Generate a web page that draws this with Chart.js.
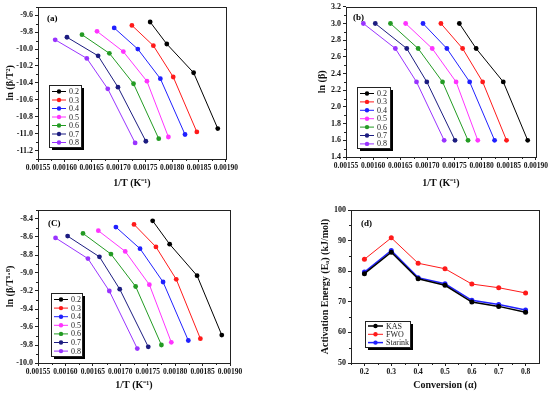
<!DOCTYPE html>
<html>
<head>
<meta charset="utf-8">
<script src="https://cdn.jsdelivr.net/npm/chart.js@4.4.0/dist/chart.umd.min.js"></script>
<style>
  html, body { margin: 0; padding: 0; background: #fff; }
  #wrap { position: relative; width: 550px; height: 395px; overflow: hidden; }
  canvas { position: absolute; }
</style>
</head>
<body>
<div id="wrap">
  <canvas id="pa" style="left:3px;top:0"></canvas>
  <canvas id="pb" style="left:315px;top:0"></canvas>
  <canvas id="pc" style="left:3px;top:200px"></canvas>
  <canvas id="pd" style="left:318px;top:200px"></canvas>
</div>
<script>
// conversion levels and their colours
const conversions = ['0.2', '0.3', '0.4', '0.5', '0.6', '0.7', '0.8'];
const seriesColors = ['#000000', '#ff1a1a', '#2020ff', '#ff33ff', '#239b23', '#1c1c80', '#9933ff'];

// 1/T (K^-1) for each conversion, heating rates 20, 15, 10, 5 K/min
const invT02 = [0.001759, 0.001790, 0.001840, 0.001885];
const invT03 = [0.001725, 0.001765, 0.001802, 0.001846];
const invT04 = [0.001692, 0.001736, 0.001778, 0.001824];
const invT05 = [0.001660, 0.001709, 0.001753, 0.001793];
const invT06 = [0.001632, 0.001683, 0.001728, 0.001775];
const invT07 = [0.001604, 0.001662, 0.001699, 0.001751];
const invT08 = [0.001582, 0.001641, 0.001680, 0.001731];
const invT = [invT02, invT03, invT04, invT05, invT06, invT07, invT08];

// (a) ln(beta/T^2)
const kas02 = [-9.68, -9.94, -10.28, -10.94];
const kas03 = [-9.72, -9.96, -10.33, -10.98];
const kas04 = [-9.75, -10.00, -10.35, -11.01];
const kas05 = [-9.79, -10.03, -10.38, -11.04];
const kas06 = [-9.83, -10.05, -10.41, -11.06];
const kas07 = [-9.86, -10.08, -10.45, -11.09];
const kas08 = [-9.89, -10.11, -10.47, -11.11];
const kasY = [kas02, kas03, kas04, kas05, kas06, kas07, kas08];

// (b) ln(beta), same for every conversion
const lnBeta = [3.0, 2.7, 2.3, 1.6];

// (c) ln(beta/T^1.8)
const str02 = [-8.42, -8.68, -9.03, -9.69];
const str03 = [-8.46, -8.71, -9.07, -9.73];
const str04 = [-8.49, -8.73, -9.10, -9.75];
const str05 = [-8.53, -8.76, -9.13, -9.77];
const str06 = [-8.56, -8.79, -9.15, -9.80];
const str07 = [-8.59, -8.82, -9.18, -9.82];
const str08 = [-8.61, -8.84, -9.20, -9.84];
const strY = [str02, str03, str04, str05, str06, str07, str08];

// (d) activation energy vs conversion
const alpha = [0.2, 0.3, 0.4, 0.5, 0.6, 0.7, 0.8];
const eaKAS = [79.2, 86.2, 77.5, 75.4, 69.9, 68.5, 66.6];
const eaFWO = [83.9, 90.9, 82.6, 80.8, 75.8, 74.6, 72.9];
const eaStarink = [79.7, 86.8, 77.9, 75.9, 70.5, 69.1, 67.3];

// tick labels
const invTTicks = [0.00155, 0.00160, 0.00165, 0.00170, 0.00175, 0.00180, 0.00185, 0.00190];
const ticksA = [-11.2, -11.0, -10.8, -10.6, -10.4, -10.2, -10.0, -9.8, -9.6];
const ticksB = [1.4, 1.6, 1.8, 2.0, 2.2, 2.4, 2.6, 2.8, 3.0, 3.2];
const ticksC = [-10.0, -9.8, -9.6, -9.4, -9.2, -9.0, -8.8, -8.6, -8.4];
const ticksD = [50, 60, 70, 80, 90, 100];

const FONT = 'Liberation Serif';

function pts(xs, ys) {
  return xs.map((x, i) => ({ x: x, y: ys[i] }));
}

function seriesSets(yFor) {
  return conversions.map((c, i) => ({
    label: c,
    data: pts(invT[i], yFor(i)),
    borderColor: seriesColors[i],
    backgroundColor: seriesColors[i],
    borderWidth: 1,
    pointRadius: 2.4,
    pointBorderWidth: 0
  }));
}

// box, minor ticks and panel letter
const framePlugin = {
  id: 'frame',
  afterDraw(chart, args, opts) {
    const ctx = chart.ctx;
    const a = chart.chartArea;
    ctx.save();
    ctx.strokeStyle = '#222';
    ctx.lineWidth = 1;
    ctx.strokeRect(Math.round(a.left) + 0.5, Math.round(a.top) + 0.5,
      Math.round(a.right - a.left), Math.round(a.bottom - a.top));
    // minor ticks
    ['x', 'y'].forEach(id => {
      const s = chart.scales[id];
      const t = s.ticks.map(k => k.value);
      if (t.length < 2) return;
      const step = t[1] - t[0];
      const mids = [t[0] - step / 2];
      for (let i = 0; i < t.length; i++) mids.push(t[i] + step / 2);
      ctx.beginPath();
      mids.forEach(v => {
        if (v < s.min || v > s.max) return;
        const p = Math.round(s.getPixelForValue(v)) + 0.5;
        if (id === 'x') { ctx.moveTo(p, a.bottom); ctx.lineTo(p, a.bottom + 2); }
        else { ctx.moveTo(a.left, p); ctx.lineTo(a.left - 2, p); }
      });
      ctx.stroke();
    });
    ctx.fillStyle = '#000';
    ctx.font = 'bold 9px "' + FONT + '"';
    ctx.textBaseline = 'middle';
    ctx.fillText(opts.tag, a.left + opts.tagX, a.top + opts.tagY);
    ctx.restore();
  }
};

// inset legend with shadow
const insetLegend = {
  id: 'insetLegend',
  afterDraw(chart, args, o) {
    const ctx = chart.ctx;
    const sets = chart.data.datasets;
    ctx.save();
    ctx.fillStyle = '#000';
    ctx.fillRect(o.x + 3, o.y + 3, o.w, o.h);
    ctx.fillStyle = '#fff';
    ctx.fillRect(o.x, o.y, o.w, o.h);
    ctx.strokeStyle = '#222';
    ctx.lineWidth = 1;
    ctx.strokeRect(o.x + 0.5, o.y + 0.5, o.w, o.h);
    ctx.font = '8px "' + FONT + '"';
    ctx.textBaseline = 'middle';
    sets.forEach((d, i) => {
      const cy = o.y + o.first + i * o.row;
      ctx.strokeStyle = d.borderColor;
      ctx.lineWidth = d.borderWidth;
      ctx.beginPath();
      ctx.moveTo(o.x + 3, cy);
      ctx.lineTo(o.x + 3 + o.line, cy);
      ctx.stroke();
      ctx.fillStyle = d.borderColor;
      ctx.beginPath();
      ctx.arc(o.x + 3 + o.line / 2, cy, 2.2, 0, Math.PI * 2);
      ctx.fill();
      ctx.fillStyle = '#222';
      ctx.fillText(d.label, o.x + 6 + o.line, cy + 0.5);
    });
    ctx.restore();
  }
};

function axis(opts) {
  return Object.assign({
    type: 'linear',
    border: { display: false },
    grid: { drawOnChartArea: false, drawTicks: true, tickLength: 3, color: '#222' },
    title: { display: true, color: '#111', font: { family: FONT, size: 10, weight: 'bold' }, padding: 1 },
    ticks: { color: '#111', font: { family: FONT, size: 7.5, weight: 'bold' }, padding: 2, maxRotation: 0, autoSkip: false }
  }, opts);
}

function makePanel(id, w, h, cfg) {
  const cv = document.getElementById(id);
  cv.width = w; cv.height = h;
  cv.style.width = w + 'px'; cv.style.height = h + 'px';
  const xAxis = axis({ min: cfg.xMin, max: cfg.xMax });
  xAxis.title = Object.assign({}, xAxis.title, { text: cfg.xTitle });
  xAxis.ticks = Object.assign({}, xAxis.ticks, { callback: cfg.xFmt });
  xAxis.afterBuildTicks = s => { s.ticks = cfg.xTicks.map(v => ({ value: v })); };
  xAxis.afterFit = s => { s.height = cfg.xH; };
  const yAxis = axis({ min: cfg.yMin, max: cfg.yMax });
  yAxis.title = Object.assign({}, yAxis.title, { text: cfg.yTitle });
  yAxis.ticks = Object.assign({}, yAxis.ticks, { callback: cfg.yFmt, font: { family: FONT, size: 8, weight: 'bold' } });
  yAxis.afterBuildTicks = s => { s.ticks = cfg.yTicks.map(v => ({ value: v })); };
  yAxis.afterFit = s => { s.width = cfg.yW; };
  return new Chart(cv, {
    type: 'line',
    data: { datasets: cfg.datasets },
    options: {
      responsive: false,
      animation: false,
      devicePixelRatio: 1,
      layout: { padding: cfg.pad },
      scales: { x: xAxis, y: yAxis },
      plugins: {
        legend: { display: false },
        tooltip: { enabled: false },
        frame: cfg.frame,
        insetLegend: cfg.legend
      }
    },
    plugins: [framePlugin, insetLegend]
  });
}

const fmtInvT = v => v.toFixed(5);
const fmt1 = v => v.toFixed(1);

makePanel('pa', 237, 190, {
  datasets: seriesSets(i => kasY[i]),
  xMin: 0.00155, xMax: 0.0019, xTicks: invTTicks, xFmt: fmtInvT, xTitle: '1/T (K⁻¹)', xH: 31,
  yMin: -11.3, yMax: -9.5, yTicks: ticksA, yFmt: fmt1, yTitle: 'ln (β/T²)', yW: 35,
  pad: { top: 4, right: 13, left: 0, bottom: 0 },
  frame: { tag: '(a)', tagX: 9, tagY: 12 },
  legend: { x: 46, y: 85, w: 32, h: 62, first: 6.5, row: 8.5, line: 14 }
});

makePanel('pb', 235, 190, {
  datasets: seriesSets(() => lnBeta),
  xMin: 0.00155, xMax: 0.0019, xTicks: invTTicks, xFmt: fmtInvT, xTitle: '1/T (K⁻¹)', xH: 33,
  yMin: 1.4, yMax: 3.2, yTicks: ticksB, yFmt: fmt1, yTitle: 'ln (β)', yW: 31,
  pad: { top: 4, right: 14, left: 0, bottom: 0 },
  frame: { tag: '(b)', tagX: 7, tagY: 11 },
  legend: { x: 42, y: 87, w: 33, h: 61, first: 6.5, row: 8.4, line: 14 }
});

makePanel('pc', 242, 192, {
  datasets: seriesSets(i => strY[i]),
  xMin: 0.00155, xMax: 0.0019, xTicks: invTTicks, xFmt: fmtInvT, xTitle: '1/T (K⁻¹)', xH: 29,
  yMin: -10.0, yMax: -8.3, yTicks: ticksC, yFmt: fmt1, yTitle: 'ln (β/T¹·⁸)', yW: 35,
  pad: { top: 10, right: 15, left: 0, bottom: 0 },
  frame: { tag: '(C)', tagX: 10, tagY: 14 },
  legend: { x: 48, y: 93, w: 31, h: 63, first: 6.5, row: 8.6, line: 14 }
});

makePanel('pd', 232, 192, {
  datasets: [
    { label: 'KAS', data: pts(alpha, eaKAS), borderColor: '#000000', backgroundColor: '#000000', borderWidth: 1.5, pointRadius: 2.5, pointBorderWidth: 0 },
    { label: 'FWO', data: pts(alpha, eaFWO), borderColor: '#ff1a1a', backgroundColor: '#ff1a1a', borderWidth: 1, pointRadius: 2.5, pointBorderWidth: 0 },
    { label: 'Starink', data: pts(alpha, eaStarink), borderColor: '#2020ff', backgroundColor: '#2020ff', borderWidth: 1.5, pointRadius: 2.5, pointBorderWidth: 0 }
  ],
  xMin: 0.15, xMax: 0.85, xTicks: alpha, xFmt: fmt1, xTitle: 'Conversion (α)', xH: 29,
  yMin: 50, yMax: 100, yTicks: ticksD, yFmt: v => String(v), yTitle: 'Activation Energy (Eₐ) (kJ/mol)', yW: 33,
  pad: { top: 10, right: 11, left: 0, bottom: 0 },
  frame: { tag: '(d)', tagX: 10, tagY: 14 },
  legend: { x: 47, y: 121, w: 45, h: 26, first: 5, row: 8.3, line: 15 }
});
</script>
</body>
</html>
